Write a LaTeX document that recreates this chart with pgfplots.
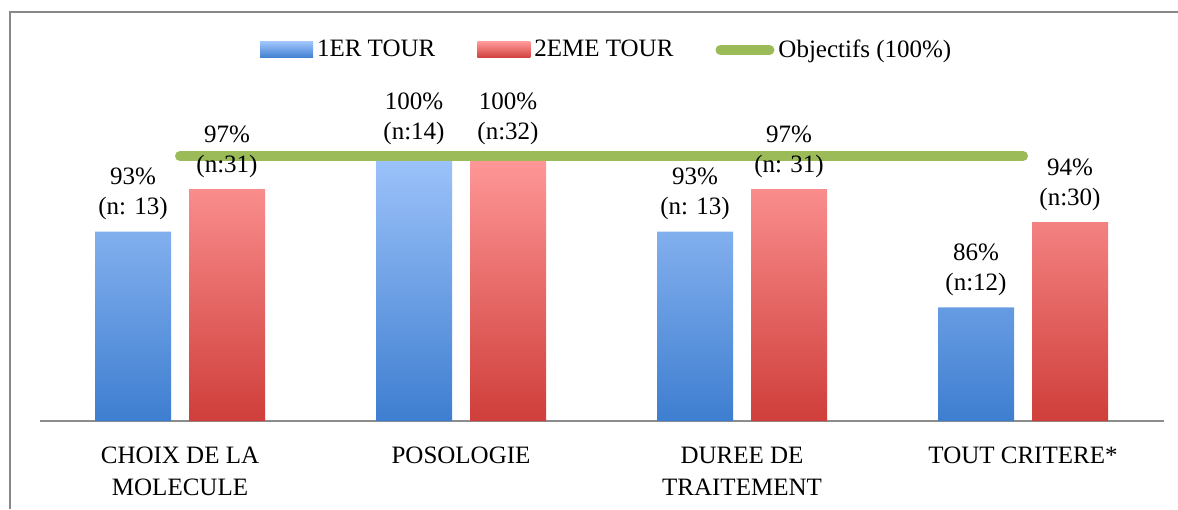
\documentclass[border=0pt]{standalone}
\usepackage{fontspec}
\setmainfont{Liberation Serif}
\usepackage{pgfplots}
\pgfplotsset{compat=1.18}
\definecolor{bluetop}{RGB}{157,195,250}
\definecolor{bluebot}{RGB}{62,126,208}
\definecolor{redtop}{RGB}{255,152,152}
\definecolor{redbot}{RGB}{207,62,58}
\definecolor{objgreen}{RGB}{155,187,89}
\definecolor{framegray}{RGB}{136,136,136}
\definecolor{axisgray}{RGB}{140,140,140}
\protected\def\twol#1#2{#1\\#2}
\begin{document}
\begin{tikzpicture}
\useasboundingbox (0,0) rectangle (589pt,254.5pt);
\draw[framegray, line width=0.75pt] (5pt,0) -- (5pt,248.5pt) -- (589pt,248.5pt);
\begin{axis}[
  at={(19.75pt,44pt)}, anchor=south west,
  scale only axis, width=562pt, height=132.5pt,
  xmin=-0.5, xmax=3.5, ymin=0, ymax=25,
  y filter/.expression={y-75},
  axis x line*=bottom, axis y line=none,
  x axis line style={axisgray, line width=0.75pt, -},
  xtick={0,1,2,3},
  xticklabels={{CHOIX DE LA\\MOLECULE},{POSOLOGIE},{DUREE DE\\TRAITEMENT},{TOUT CRITERE*}},
  major tick length=0pt,
  xticklabel style={align=center, font=\fontsize{12.5}{16}\selectfont, inner sep=0pt, yshift=-13pt},
  clip=false,
  legend style={draw=none, fill=none, at={(0.5055,1.4)}, anchor=center,
    legend columns=3, font=\fontsize{12.5}{14}\selectfont,
    /tikz/every even column/.append style={column sep=19pt}},
  every node near coord/.append style={inner sep=0pt, yshift=5.6pt, align=center,
    font=\fontsize{12.5}{15}\selectfont, text=black},
]
% bars
\addplot[ybar, bar width=38pt, bar shift=-23.5pt, draw=none,
  top color=bluetop, bottom color=bluebot,
  legend image code/.code={\shade[top color=bluetop, bottom color=bluebot] (0pt,-4pt) rectangle (26.5pt,4pt);}]
  coordinates {(0,92.86) (1,100) (2,92.86) (3,85.71)};
\addplot[ybar, bar width=38pt, bar shift=23.5pt, draw=none,
  top color=redtop, bottom color=redbot,
  legend image code/.code={\shade[top color=redtop, bottom color=redbot] (0pt,-4pt) rectangle (26.5pt,4pt);}]
  coordinates {(0,96.88) (1,100) (2,96.88) (3,93.75)};
% objective line
\addplot[sharp plot, objgreen, line width=5pt, line cap=round,
  legend image code/.code={\draw[objgreen, line width=5pt, line cap=round] (3pt,0pt) -- (27.5pt,0pt);}]
  coordinates {(0,100) (3,100)};
% labels
\addplot[ybar, bar width=38pt, bar shift=-23.5pt, draw=none, fill=none, forget plot,
  nodes near coords, point meta=explicit symbolic,
  every node near coord/.append style={xshift=-23.5pt}]
  coordinates {(0,92.86) [\twol{93\%}{(n: 13)}] (1,100) [\twol{100\%}{(n:14)}]
               (2,92.86) [\twol{93\%}{(n: 13)}] (3,85.71) [\twol{86\%}{(n:12)}]};
\addplot[ybar, bar width=38pt, bar shift=23.5pt, draw=none, fill=none, forget plot,
  nodes near coords, point meta=explicit symbolic,
  every node near coord/.append style={xshift=23.5pt}]
  coordinates {(0,96.88) [\twol{97\%}{(n:31)}] (1,100) [\twol{100\%}{(n:32)}]
               (2,96.88) [\twol{97\%}{(n: 31)}] (3,93.75) [\twol{94\%}{(n:30)}]};
\legend{1ER TOUR, 2EME TOUR, Objectifs (100\%)}
\end{axis}
\end{tikzpicture}
\end{document}
